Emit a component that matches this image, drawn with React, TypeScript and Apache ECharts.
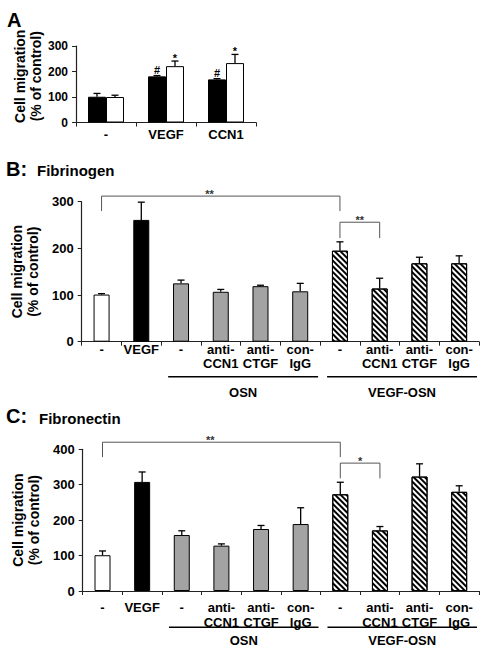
import React, { useEffect, useRef } from 'react';
import * as echarts from 'echarts';

const FONT = '"Liberation Sans", Arial, Helvetica, sans-serif';

// ---------- Panel A ----------
const catsA = ['-', 'VEGF', 'CCN1'];
const blackA = [101, 181, 169];
const blackErrA = [13, 3, 3];
const blackMarkA = ['', '#', '#'];
const whiteA = [100, 221, 233];
const whiteErrA = [7, 20, 34];
const whiteMarkA = ['', '*', '*'];
const yMaxA = 300;

// ---------- Panels B and C (shared categories) ----------
const catsBC = ['-', 'VEGF', '-', 'anti-\nCCN1', 'anti-\nCTGF', 'con-\nIgG', '-', 'anti-\nCCN1', 'anti-\nCTGF', 'con-\nIgG'];
const fillBC = ['white', 'black', 'gray', 'gray', 'gray', 'gray', 'hatch', 'hatch', 'hatch', 'hatch'];
const groupNames = ['OSN', 'VEGF-OSN'];
const groupFrom = [2, 6];
const groupTo = [5, 9];

// Panel B: Fibrinogen
const fibrinogen = [101, 261, 125, 107, 119, 108, 195, 114, 168, 168];
const fibrinogenErr = [2, 38, 7, 5, 2, 17, 19, 22, 13, 16];
const yMaxB = 300;
const bracketFromB = [0, 6];
const bracketToB = [6, 7];
const bracketTopB = [312, 256];
const bracketLegB = [280, 222];
const bracketTextB = ['**', '**'];
const bracketTextAtB = [2.72, 6.5];

// Panel C: Fibronectin
const fibronectin = [101, 308, 158, 128, 175, 189, 273, 171, 323, 280];
const fibronectinErr = [12, 28, 12, 5, 10, 46, 34, 11, 36, 17];
const yMaxC = 400;
const bracketFromC = [0, 6];
const bracketToC = [6, 7];
const bracketTopC = [420, 361];
const bracketLegC = [378, 318];
const bracketTextC = ['**', '*'];
const bracketTextAtC = [2.72, 6.5];

const HATCH = {
  symbol: 'rect',
  symbolSize: 1,
  dashArrayX: [1, 0],
  dashArrayY: [1.3, 2],
  rotation: Math.PI / 4,
  color: '#000',
  backgroundColor: '#fff',
};

function styleFor(kind: string): any {
  if (kind === 'black') return { color: '#000', borderColor: '#000', borderWidth: 1 };
  if (kind === 'gray') return { color: '#a3a3a3', borderColor: '#000', borderWidth: 1 };
  if (kind === 'hatch') return { color: '#fff', borderColor: '#000', borderWidth: 1, decal: HATCH };
  return { color: '#fff', borderColor: '#000', borderWidth: 1 };
}

function errSeries(ax: number, vals: number[], errs: number[], marks: string[] | null, offset: number, markDy: number[]): any {
  return {
    type: 'custom',
    xAxisIndex: ax,
    yAxisIndex: ax,
    z: 5,
    silent: true,
    clip: false,
    encode: { x: 0, y: 1 },
    data: vals.map((v, i) => [i, v, errs[i]]),
    renderItem: (params: any, api: any) => {
      const i = api.value(0);
      const v = api.value(1);
      const e = api.value(2);
      const base = api.coord([i, v]);
      const top = api.coord([i, v + e]);
      const cx = base[0] + offset;
      const st = { stroke: '#000', lineWidth: 1.3 };
      const children: any[] = [
        { type: 'line', shape: { x1: cx, y1: base[1], x2: cx, y2: top[1] }, style: st },
        { type: 'line', shape: { x1: cx - 3.5, y1: top[1], x2: cx + 3.5, y2: top[1] }, style: st },
      ];
      const m = marks ? marks[params.dataIndex] : '';
      if (m) {
        children.push({
          type: 'text',
          style: {
            text: m,
            x: cx,
            y: top[1] - (m === '#' ? markDy[0] : markDy[1]),
            align: 'center',
            verticalAlign: 'middle',
            fill: '#000',
            fontFamily: FONT,
            fontWeight: 'bold',
            fontSize: 11,
          },
        });
      }
      return { type: 'group', children };
    },
  };
}

function bracketSeries(ax: number, from: number[], to: number[], topV: number[], legV: number[], texts: string[], textAt: number[]): any {
  return {
    type: 'custom',
    xAxisIndex: ax,
    yAxisIndex: ax,
    z: 6,
    silent: true,
    clip: false,
    encode: { x: 0, y: 1 },
    data: from.map((f, k) => [f, topV[k]]),
    renderItem: (params: any, api: any) => {
      const k = params.dataIndex;
      const pL = api.coord([from[k], topV[k]]);
      const pR = api.coord([to[k], topV[k]]);
      const yLeg = api.coord([from[k], legV[k]])[1];
      const band = api.size([1, 0])[0];
      const x0 = api.coord([0, 0])[0];
      const tx = x0 + textAt[k] * band;
      return {
        type: 'group',
        children: [
          {
            type: 'polyline',
            shape: { points: [[pL[0], yLeg], [pL[0], pL[1]], [pR[0], pR[1]], [pR[0], yLeg]] },
            style: { stroke: '#555', lineWidth: 1, fill: 'none' },
          },
          {
            type: 'text',
            style: {
              text: texts[k],
              x: tx,
              y: pL[1] - 2,
              align: 'center',
              verticalAlign: 'middle',
              fill: '#333',
              fontFamily: FONT,
              fontWeight: 'bold',
              fontSize: 11,
            },
          },
        ],
      };
    },
  };
}

function groupSeries(ax: number, lineGap: number, labelGap: number): any {
  return {
    type: 'custom',
    xAxisIndex: ax,
    yAxisIndex: ax,
    z: 6,
    silent: true,
    clip: false,
    encode: { x: 0, y: 1 },
    data: groupFrom.map((f) => [f, 0]),
    renderItem: (params: any, api: any) => {
      const k = params.dataIndex;
      const a = api.coord([groupFrom[k], 0]);
      const b = api.coord([groupTo[k], 0]);
      const band = api.size([1, 0])[0];
      const x1 = a[0] - band / 2 + 7;
      const x2 = b[0] + band / 2 - 2;
      const y = a[1] + lineGap;
      return {
        type: 'group',
        children: [
          { type: 'line', shape: { x1, y1: y, x2, y2: y }, style: { stroke: '#000', lineWidth: 1.5 } },
          {
            type: 'text',
            style: {
              text: groupNames[k],
              x: (x1 + x2) / 2,
              y: a[1] + labelGap,
              align: 'center',
              verticalAlign: 'middle',
              fill: '#000',
              fontFamily: FONT,
              fontWeight: 'bold',
              fontSize: 13,
            },
          },
        ],
      };
    },
  };
}

function yAxisOf(grid: number, max: number, nameGap: number, labelSize: number, padLeft: number): any {
  return {
    type: 'value',
    gridIndex: grid,
    min: 0,
    max,
    interval: 100,
    name: 'Cell migration\n(% of control)',
    nameLocation: 'middle',
    nameGap,
    nameTextStyle: {
      fontFamily: FONT,
      fontWeight: 'bold',
      fontSize: 14,
      lineHeight: 16,
      color: '#000',
      align: 'center',
      padding: [0, 0, 0, padLeft],
    },
    axisLine: { show: true, lineStyle: { color: '#222', width: 1.2 } },
    axisTick: { show: true, length: 4, lineStyle: { color: '#222' } },
    splitLine: { show: false },
    axisLabel: { fontFamily: FONT, fontWeight: 'bold', fontSize: labelSize, color: '#000', margin: 8 },
  };
}

function xAxisOf(grid: number, cats: string[], margin: number, lineHeight: number): any {
  return {
    type: 'category',
    gridIndex: grid,
    data: cats,
    axisLine: { show: true, lineStyle: { color: '#222', width: 1.2 } },
    axisTick: { show: true, length: 4, alignWithLabel: false, lineStyle: { color: '#222' } },
    axisLabel: {
      interval: 0,
      fontFamily: FONT,
      fontWeight: 'bold',
      fontSize: 13,
      lineHeight,
      color: '#000',
      margin,
    },
  };
}

function titleText(x: number, y: number, text: string, size: number): any {
  return {
    type: 'text',
    x,
    y,
    style: {
      text,
      fill: '#000',
      fontFamily: FONT,
      fontWeight: 'bold',
      fontSize: size,
      verticalAlign: 'middle',
      align: 'left',
    },
  };
}

const option: any = {
  animation: false,
  backgroundColor: '#fff',
  textStyle: { fontFamily: FONT },
  grid: [
    { left: 76, top: 46, width: 180, height: 76.5, containLabel: false, outerBoundsMode: 'none' },
    { left: 81.7, top: 201.7, width: 397.3, height: 140, containLabel: false, outerBoundsMode: 'none' },
    { left: 82.7, top: 449.3, width: 396.3, height: 141.7, containLabel: false, outerBoundsMode: 'none' },
  ],
  xAxis: [
    xAxisOf(0, catsA, 5, 14),
    xAxisOf(1, catsBC, 1, 14),
    xAxisOf(2, catsBC, 9, 15),
  ],
  yAxis: [
    yAxisOf(0, yMaxA, 32, 12, 16),
    yAxisOf(1, yMaxB, 38, 13, 0),
    yAxisOf(2, yMaxC, 40, 13, 0),
  ],
  graphic: [
    titleText(7, 19.5, 'A', 20),
    titleText(6, 169, 'B:', 20),
    titleText(37, 170.5, 'Fibrinogen', 15),
    titleText(6, 416, 'C:', 20),
    titleText(39, 418, 'Fibronectin', 15),
  ],
  series: [
    {
      type: 'bar',
      xAxisIndex: 0,
      yAxisIndex: 0,
      barWidth: 18,
      barGap: '0%',
      data: blackA,
      itemStyle: styleFor('black'),
    },
    {
      type: 'bar',
      xAxisIndex: 0,
      yAxisIndex: 0,
      barWidth: 18,
      barGap: '0%',
      data: whiteA,
      itemStyle: styleFor('white'),
    },
    errSeries(0, blackA, blackErrA, blackMarkA, -9, [5.5, 3]),
    errSeries(0, whiteA, whiteErrA, whiteMarkA, 9, [5.5, 3]),
    {
      type: 'bar',
      xAxisIndex: 1,
      yAxisIndex: 1,
      barWidth: 16,
      data: fibrinogen.map((v, i) => ({ value: v, itemStyle: styleFor(fillBC[i]) })),
    },
    errSeries(1, fibrinogen, fibrinogenErr, null, 0, [0, 0]),
    bracketSeries(1, bracketFromB, bracketToB, bracketTopB, bracketLegB, bracketTextB, bracketTextAtB),
    groupSeries(1, 35, 50.6),
    {
      type: 'bar',
      xAxisIndex: 2,
      yAxisIndex: 2,
      barWidth: 16,
      data: fibronectin.map((v, i) => ({ value: v, itemStyle: styleFor(fillBC[i]) })),
    },
    errSeries(2, fibronectin, fibronectinErr, null, 0, [0, 0]),
    bracketSeries(2, bracketFromC, bracketToC, bracketTopC, bracketLegC, bracketTextC, bracketTextAtC),
    groupSeries(2, 36.3, 49.7),
  ],
};

export default function App() {
  const ref = useRef<HTMLDivElement>(null);
  useEffect(() => {
    document.body.style.margin = '0';
    const chart = echarts.init(ref.current as HTMLDivElement, undefined, { renderer: 'svg' });
    chart.setOption(option);
    return () => chart.dispose();
  }, []);
  return <div ref={ref} style={{ width: 486, height: 655, position: 'absolute', left: 0, top: 0 }} />;
}
